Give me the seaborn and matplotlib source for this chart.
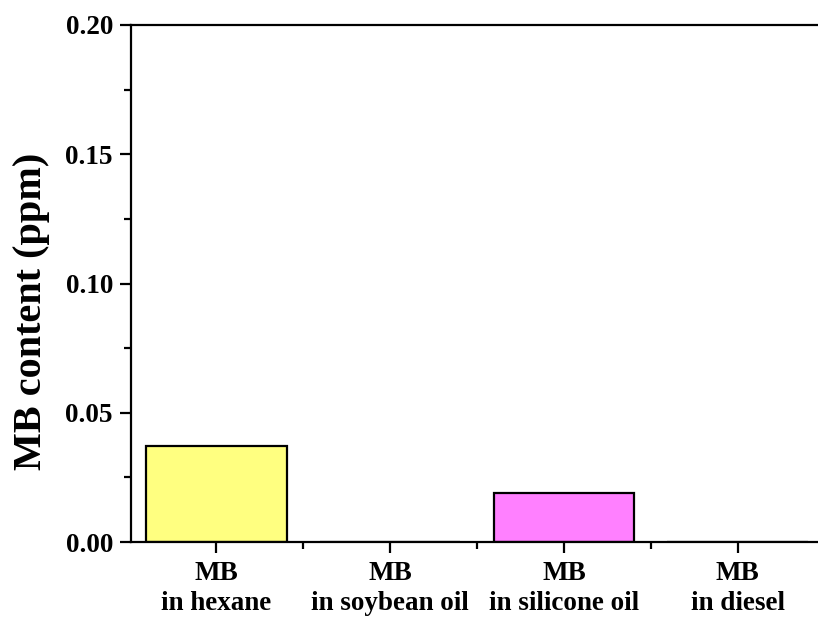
import matplotlib
matplotlib.use("Agg")
import matplotlib.pyplot as plt
from matplotlib.ticker import MultipleLocator
import seaborn as sns
import pandas as pd

# Methylene blue content measured in each solvent
categories = ["MB\nin hexane", "MB\nin soybean oil", "MB\nin silicone oil", "MB\nin diesel"]
mb_content = [0.037, 0.0, 0.019, 0.0]
bar_colors = ["#FFFF80", "#80FFFF", "#FF80FF", "#FFC080"]

y_ticks = [0.00, 0.05, 0.10, 0.15, 0.20]
y_tick_labels = ["0.00", "0.05", "0.10", "0.15", "0.20"]

sns.set_theme(style="ticks")
plt.rcParams["font.family"] = ["Liberation Serif", "DejaVu Serif"]
plt.rcParams["font.weight"] = "bold"

df = pd.DataFrame({"sample": categories, "content": mb_content})

fig = plt.figure(figsize=(8.18, 6.21), dpi=100)
ax = fig.add_axes([131 / 818, 1 - 542 / 621, 692 / 818, (542 - 25) / 621])

sns.barplot(data=df, x="sample", y="content", hue="sample",
            palette=bar_colors, width=0.81, edgecolor="black",
            linewidth=1.6, legend=False, ax=ax, saturation=1)

ax.set_xlim(-0.49, 3.49)
ax.set_ylim(0, 0.20)
ax.set_yticks(y_ticks)
ax.set_yticklabels(y_tick_labels)
ax.yaxis.set_minor_locator(MultipleLocator(0.025))
ax.set_xticks(range(len(categories)), minor=False)
ax.set_xticks([0.5, 1.5, 2.5], minor=True)

ax.set_xlabel("")
ax.set_ylabel("MB content (ppm)", fontsize=29, fontweight="bold", color="black")
ax.yaxis.set_label_coords(-0.117, 0.447)

for side in ["left", "bottom", "top", "right"]:
    ax.spines[side].set_visible(True)
    ax.spines[side].set_color("black")
    ax.spines[side].set_linewidth(1.6)

ax.tick_params(axis="both", which="major", direction="out", length=8, width=1.6,
               colors="black", labelsize=19.5, pad=5)
ax.tick_params(axis="both", which="minor", direction="out", length=5, width=1.6,
               colors="black")
ax.tick_params(axis="x", which="major", pad=6)
for lbl in ax.get_xticklabels():
    lbl.set_linespacing(1.25)
    lbl.set_fontweight("bold")
for lbl in ax.get_yticklabels():
    lbl.set_fontweight("bold")

fig.savefig("out.png", dpi=100, facecolor="white")
